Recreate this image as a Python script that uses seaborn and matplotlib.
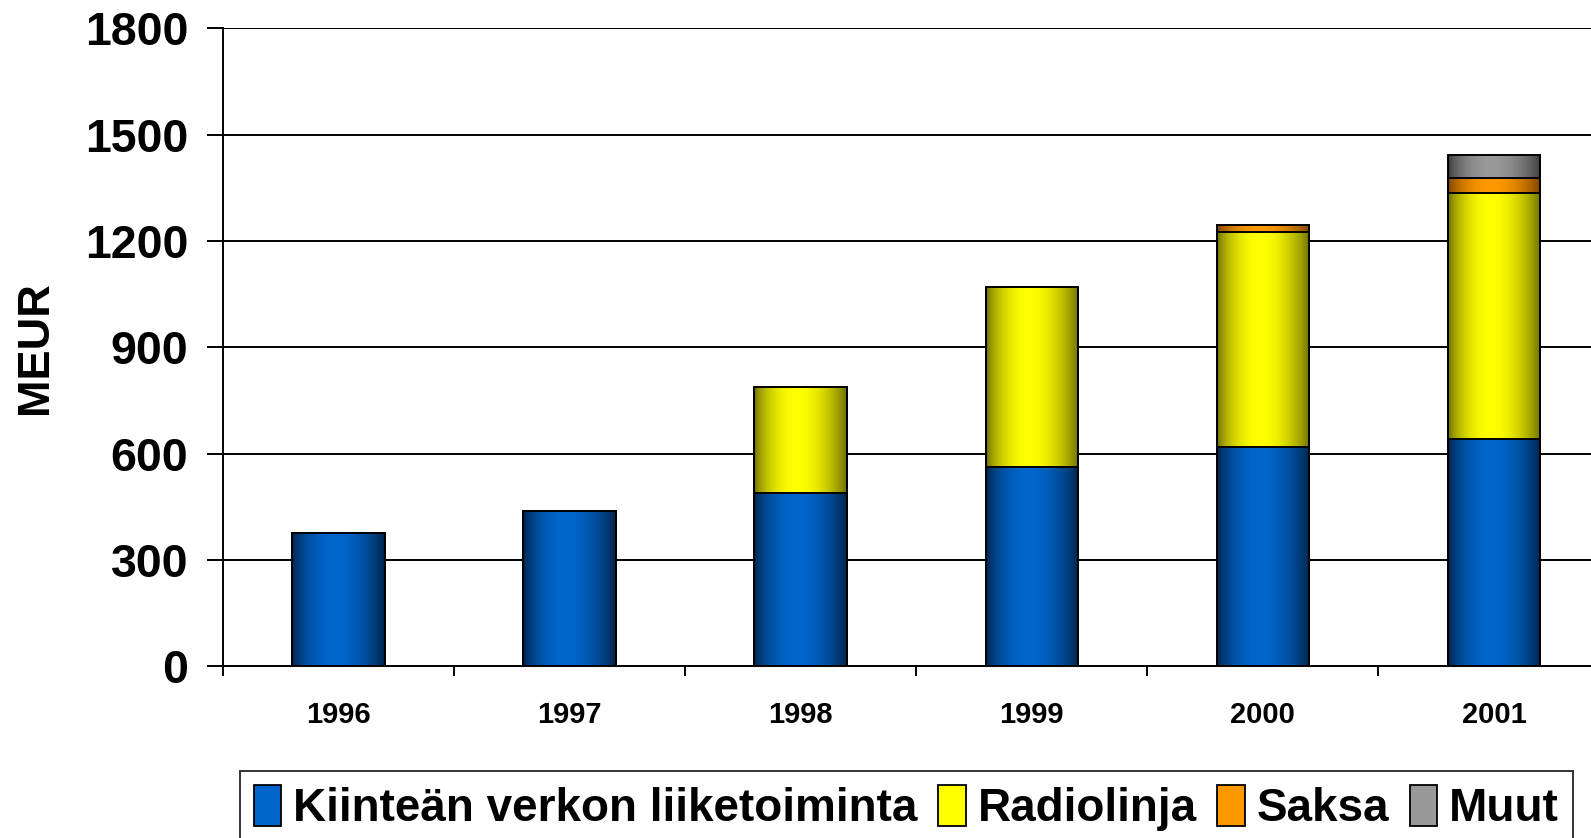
import numpy as np
import pandas as pd
import seaborn as sns
import matplotlib.pyplot as plt
from matplotlib.patches import Patch
from matplotlib.colors import to_rgb

# data (MEUR)
years = ["1996", "1997", "1998", "1999", "2000", "2001"]
kiintea = [376, 437, 488, 561, 618, 640]
radiolinja = [0, 0, 299, 508, 608, 695]
saksa = [0, 0, 0, 0, 18, 44]
muut = [0, 0, 0, 0, 0, 64]

series = ["Kiinteän verkon liiketoiminta", "Radiolinja", "Saksa", "Muut"]
centre_cols = ["#0066cc", "#ffff00", "#ff9900", "#999999"]
edge_cols = ["#00244a", "#6e6e00", "#7a4200", "#3c3c3c"]

sns.set_style("white")
plt.rcParams["font.family"] = ["Liberation Sans", "DejaVu Sans"]
plt.rcParams["font.weight"] = "bold"
plt.rcParams["text.color"] = "black"
plt.rcParams["axes.labelcolor"] = "black"
plt.rcParams["xtick.color"] = "black"
plt.rcParams["ytick.color"] = "black"

df = pd.DataFrame({"year": years, series[0]: kiintea, series[1]: radiolinja,
                   series[2]: saksa, series[3]: muut})
cum = df[series].cumsum(axis=1)


def shade(c_edge, c_mid, n=64):
    # cylinder-like horizontal shading, bright a bit left of centre
    x = np.linspace(0, 1, n)
    w = np.sin(np.pi * x ** 0.9) ** 0.8
    e, m = np.array(to_rgb(c_edge)), np.array(to_rgb(c_mid))
    return (e + (m - e) * w[:, None])[None, :, :]


fig = plt.figure(figsize=(15.91, 8.38), dpi=100)
ax = fig.add_axes([223 / 1591, 171.8 / 838, (1591 - 223) / 1591, 0.761])

# stacked bars drawn as overlapping cumulative bars, top layer first
for k in range(3, -1, -1):
    n_before = len(ax.patches)
    sns.barplot(data=cum.assign(year=years), x="year", y=series[k], order=years,
                color=centre_cols[k], width=0.4, errorbar=None, ax=ax,
                edgecolor="black", linewidth=1.4, zorder=3 + 2 * (3 - k))
    for p in ax.patches[n_before:]:
        p.set_facecolor("none")
        x0, w, h = p.get_x(), p.get_width(), p.get_height()
        im = ax.imshow(shade(edge_cols[k], centre_cols[k]), extent=(x0, x0 + w, 0, h),
                       aspect="auto", zorder=2.5 + 2 * (3 - k), interpolation="bilinear")
        im.set_clip_path(p)

ax.set_yticks(range(0, 1801, 300))
ax.set_xticks(np.arange(-0.5, 6, 1), minor=True)
# limits after the ticks, set_xticks would widen them
ax.set_xlim(-0.5, 5.42)
ax.set_ylim(0, 1800)
ax.yaxis.grid(True, color="black", linewidth=1.4)
ax.set_axisbelow(True)
for s in ["top", "right"]:
    ax.spines[s].set_visible(False)
for s in ["left", "bottom"]:
    ax.spines[s].set_color("black")
    ax.spines[s].set_linewidth(1.4)

ax.tick_params(axis="x", which="major", bottom=True, length=0, pad=25, labelsize=21)
ax.tick_params(axis="x", which="minor", bottom=True, length=7, width=1.4, direction="out", color="black")
ax.tick_params(axis="y", left=True, length=11.5, width=1.4, direction="out", pad=13.5,
               labelsize=33.5, color="black")
ax.set_xlabel("")
ax.set_ylabel("MEUR", fontsize=32.5, fontweight="bold")
ax.yaxis.set_label_coords(-0.122, 0.5)

handles = [Patch(facecolor=c, edgecolor="black", linewidth=1.3) for c in centre_cols]
leg = fig.legend(handles, series, loc="upper left", bbox_to_anchor=(240 / 1591, 1 - 771 / 838),
                 ncol=4, fontsize=33, frameon=True, fancybox=False, edgecolor="black",
                 handlelength=0.6, handleheight=1.0, handletextpad=0.26, columnspacing=0.45,
                 borderpad=0.3, borderaxespad=0)
leg.get_frame().set_linewidth(1.4)

fig.savefig("out.png", dpi=100)
